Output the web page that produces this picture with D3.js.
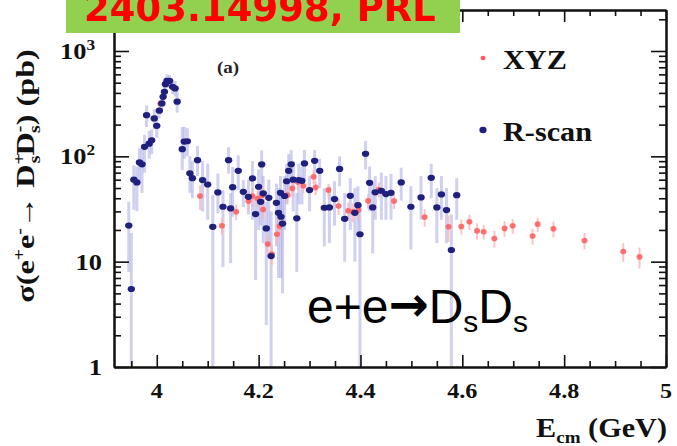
<!DOCTYPE html>
<html><head><meta charset="utf-8">
<script src="https://cdn.jsdelivr.net/npm/d3@7"></script>
<style>body{margin:0;background:#fff}svg{display:block}</style>
</head><body><svg id="c" width="677" height="446"></svg>
<script>
// R-scan data (blue)
const rscanE = [3.945,3.950,3.955,3.961,3.966,3.971,3.976,3.980,3.985,3.990,3.995,4.000,4.005,4.010,4.0125,4.015,4.017,4.020,4.025,4.031,4.036,4.040,4.050,4.054,4.060,4.065,4.070,4.080,4.090,4.100,4.110,4.120,4.130,4.141,4.145,4.149,4.160,4.170,4.180,4.188,4.194,4.200,4.204,4.206,4.209,4.215,4.220,4.2245,4.235,4.239,4.243,4.244,4.247,4.251,4.255,4.259,4.264,4.268,4.275,4.279,4.285,4.290,4.300,4.310,4.320,4.329,4.339,4.349,4.359,4.369,4.380,4.389,4.395,4.399,4.410,4.418,4.424,4.429,4.441,4.450,4.460,4.480,4.499,4.519,4.539,4.550,4.559,4.569,4.5785,4.589];
const rscanSigma = [22,5.5,60,56.5,87.5,84,123,246,132,142,229,195,271,318,367,410,484,520,520,457,441,330,117,138,139,69,62,92,59.5,54,21.4,45.4,33.2,92,32,51,72.8,46,41.3,61.7,28.3,51.4,37,83.8,44.5,20.7,40.4,11.3,36.2,29.1,45,26.7,23,42,58,72.8,84,60,25.8,59.5,58.6,85.7,47.8,90.6,72.8,32.5,32.7,39.3,76,25.5,42.2,29.1,34.4,18.2,105.6,56,32.7,45.5,47,43.8,45,56.5,33.2,40.7,62.5,32.7,43.5,30.9,12.9,42.8];
const rscanLo = [8,1,31,30,59,45,70,190,95,105,180,150,230,280,320,360,420,450,450,390,370,260,74,95,100,45,40,65,30,25,1,28.7,8.9,68.5,9.7,26.7,47.8,33,28,25,6.7,20,22,55,15,2.5,15,1,14,7,20,7,5,20,35,45,55,30,8,35,35,60,30,60,50,14,15,22,52,10,20,10,18,1,75,30,12,25,25,25,25,38,13,25,40,15,25,15,1,25];
const rscanHi = [37,18.7,82,80,119,120,160,304,175,180,280,245,320,360,420,470,560,600,590,530,520,420,190,190,185,100,90,125,90,85,43,68.5,47.8,122,44.7,79.5,102,59.5,60,90,41.3,75,55,114,65,37,60,30,55,50,65,45,40,65,85,105,115,90,45,85,80,115,65,115,95,50,52,58,100,45,62,50,52,35,140,80,55,65,70,65,68,78,52,65,85,50,65,50,28,62];
// XYZ data (red)
const xyzE = [4.007,4.085,4.128,4.156,4.180,4.188,4.198,4.207,4.209,4.218,4.226,4.236,4.241,4.257,4.266,4.277,4.288,4.308,4.312,4.337,4.357,4.376,4.385,4.396,4.415,4.436,4.466,4.526,4.573,4.598,4.614,4.629,4.642,4.663,4.683,4.699,4.738,4.748,4.779,4.840,4.916,4.948];
const xyzSigma = [317,42,21.9,29.7,37.6,42,39.8,42.8,31.3,14.7,11.8,18.2,21.8,42.8,49.6,57,52.5,64,50.7,47.8,33.7,30.4,29.7,30.9,37.8,48.5,37.6,26.5,21.4,21.6,23.9,19.6,19.2,16.6,20.7,21.9,17.5,22.7,20.5,15.9,12.5,11.1];
const xyzErr = [30,11,4,5,7,8,7,8,6,3,2.5,3.5,4,7,8,9,8,10,8,7,6,6,6,6,6,8,6,5,6,3.5,4,3.5,3,3,3.5,3.5,3,3.5,3.5,2.8,2.5,2.5];
// ticks
const xMajorTicks = [4,4.2,4.4,4.6,4.8,5];
const xTickLabels = ["4","4.2","4.4","4.6","4.8","5"];
const xMinorTicks = [3.95,4.05,4.1,4.15,4.25,4.3,4.35,4.45,4.5,4.55,4.65,4.7,4.75,4.85,4.9,4.95];
const yMajorTicks = [1,10,100,1000];
const yTickBase = ["1","10","10","10"];
const yTickExp = ["","","2","3"];
const seriesNames = ["XYZ","R-scan"];

const svg = d3.select("#c");
const L=114,R=666,T=10,B=367;
const x = d3.scaleLinear().domain([3.916,5.0]).range([L,R]);
const y = d3.scaleLog().domain([1,2450]).range([B,T]);
const yMinor = [];
[1,10,100,1000].forEach(d=>{for(let k=2;k<=9;k++){const v=d*k; if(v<2450) yMinor.push(v);}});

const serif = "'Liberation Serif','Times New Roman',serif";
const blue = "#1f1f7e", blueErr = "#a9a9e6", red = "#ff5a5a", redErr = "#ffb3b3";

// error bars
const gE = svg.append("g");
gE.selectAll("line.b").data(rscanE).join("line")
  .attr("x1",d=>x(d)).attr("x2",d=>x(d))
  .attr("y1",(d,i)=>y(Math.max(1,rscanLo[i]))).attr("y2",(d,i)=>y(rscanHi[i]))
  .attr("stroke",blueErr).attr("stroke-width",3).attr("stroke-opacity",0.55);
gE.selectAll("line.r").data(xyzE).join("line")
  .attr("x1",d=>x(d)).attr("x2",d=>x(d))
  .attr("y1",(d,i)=>y(xyzSigma[i]-xyzErr[i])).attr("y2",(d,i)=>y(xyzSigma[i]+xyzErr[i]))
  .attr("stroke",redErr).attr("stroke-width",2).attr("stroke-opacity",0.8);
// markers
svg.append("g").selectAll("ellipse").data(xyzE).join("ellipse")
  .attr("cx",d=>x(d)).attr("cy",(d,i)=>y(xyzSigma[i])).attr("rx",3).attr("ry",2.8)
  .attr("fill",red).attr("opacity",0.85);
svg.append("g").selectAll("ellipse").data(rscanE).join("ellipse")
  .attr("cx",d=>x(d)).attr("cy",(d,i)=>y(rscanSigma[i])).attr("rx",3.7).attr("ry",3.1)
  .attr("fill",blue);

// axes (ticks inside)
function styleAxis(g){g.selectAll("path").attr("stroke","#111").attr("stroke-width",2);
  g.selectAll("line").attr("stroke","#111").attr("stroke-width",1.6);}
svg.append("g").attr("transform",`translate(0,${B})`).call(d3.axisBottom(x).tickValues(xMajorTicks).tickSize(-12).tickSizeOuter(0).tickFormat("")).call(styleAxis);
svg.append("g").attr("transform",`translate(0,${B})`).call(d3.axisBottom(x).tickValues(xMinorTicks).tickSize(-6).tickSizeOuter(0).tickFormat("")).call(styleAxis);
svg.append("g").attr("transform",`translate(0,${T})`).call(d3.axisTop(x).tickValues(xMajorTicks).tickSize(-12).tickSizeOuter(0).tickFormat("")).call(styleAxis);
svg.append("g").attr("transform",`translate(0,${T})`).call(d3.axisTop(x).tickValues(xMinorTicks).tickSize(-6).tickSizeOuter(0).tickFormat("")).call(styleAxis);
svg.append("g").attr("transform",`translate(${L},0)`).call(d3.axisLeft(y).tickValues(yMajorTicks).tickSize(-15).tickSizeOuter(0).tickFormat("")).call(styleAxis);
svg.append("g").attr("transform",`translate(${L},0)`).call(d3.axisLeft(y).tickValues(yMinor).tickSize(-7).tickSizeOuter(0).tickFormat("")).call(styleAxis);
svg.append("g").attr("transform",`translate(${R},0)`).call(d3.axisRight(y).tickValues(yMajorTicks).tickSize(-15).tickSizeOuter(0).tickFormat("")).call(styleAxis);
svg.append("g").attr("transform",`translate(${R},0)`).call(d3.axisRight(y).tickValues(yMinor).tickSize(-7).tickSizeOuter(0).tickFormat("")).call(styleAxis);

// tick labels
svg.append("g").selectAll("text").data(xMajorTicks).join("text")
  .attr("transform",d=>`translate(${x(d)},${398}) scale(1.15,1)`).attr("text-anchor","middle")
  .attr("font-family",serif).attr("font-weight","bold").attr("font-size",21).attr("fill","#111")
  .text((d,i)=>xTickLabels[i]);
const yl = svg.append("g").selectAll("text").data(yMajorTicks).join("text")
  .attr("transform",(d,i)=>`translate(${yTickExp[i]?95:102},${y(d)+8}) scale(1.15,1)`).attr("text-anchor","end")
  .attr("font-family",serif).attr("font-weight","bold").attr("font-size",23).attr("fill","#111");
yl.append("tspan").text((d,i)=>yTickBase[i]);
yl.append("tspan").attr("dy",-9).attr("font-size",15).text((d,i)=>yTickExp[i]);

// axis titles
const yt = svg.append("text").attr("transform","translate(34,176) rotate(-90) scale(1.24,1)").attr("text-anchor","middle")
  .attr("font-family",serif).attr("font-weight","bold").attr("font-size",26).attr("fill","#111");
yt.append("tspan").text("σ(e");
yt.append("tspan").attr("dy",-9).attr("font-size",16).text("+");
yt.append("tspan").attr("dy",9).text("e");
yt.append("tspan").attr("dy",-9).attr("font-size",16).text("-");
yt.append("tspan").attr("dy",9).text("→  D");
yt.append("tspan").attr("dy",-9).attr("font-size",16).text("+");
yt.append("tspan").attr("dx",-8).attr("dy",15).attr("font-size",16).text("s");
yt.append("tspan").attr("dy",-6).text("D");
yt.append("tspan").attr("dy",-9).attr("font-size",16).text("-");
yt.append("tspan").attr("dx",-6).attr("dy",15).attr("font-size",16).text("s");
yt.append("tspan").attr("dy",-6).text(") (pb)");

const xt = svg.append("text").attr("transform","translate(667,437) scale(1.12,1)").attr("text-anchor","end")
  .attr("font-family",serif).attr("font-weight","bold").attr("font-size",27).attr("fill","#111");
xt.append("tspan").text("E");
xt.append("tspan").attr("dy",6).attr("font-size",17).text("cm");
xt.append("tspan").attr("dy",-6).text(" (GeV)");

// panel tag
svg.append("text").attr("transform","translate(217,73) scale(1.12,1)").attr("font-family",serif)
  .attr("font-weight","bold").attr("font-size",17).attr("fill","#222").text("(a)");

// legend
const legColors=[red,blue], legY=[58,130];
seriesNames.forEach((n,i)=>{
  svg.append("ellipse").attr("cx",483).attr("cy",legY[i]).attr("rx",i?3.6:2.5).attr("ry",i?3.2:2.3).attr("fill",legColors[i]);
  svg.append("text").attr("transform",`translate(503,${legY[i]+11}) scale(1.12,1)`).attr("font-family",serif)
    .attr("font-weight","bold").attr("font-size",27).attr("fill","#111").text(n);
});

// annotation
const an = svg.append("text").attr("x",307).attr("y",323).attr("font-family","'Liberation Sans',Arial,sans-serif")
  .attr("font-size",48).attr("fill","#000");
an.append("tspan").text("e+e");
an.append("tspan").attr("font-family","'DejaVu Sans',sans-serif").attr("font-weight","bold").attr("dy",-2).text("→");
an.append("tspan").attr("dy",2).text("D");
an.append("tspan").attr("dy",9).attr("font-size",30).text("s");
an.append("tspan").attr("dy",-9).text("D");
an.append("tspan").attr("dy",9).attr("font-size",30).text("s");

// title box
svg.append("rect").attr("x",66).attr("y",0).attr("width",394).attr("height",33).attr("fill","#92d050");
svg.append("text").attr("x",260).attr("y",21).attr("text-anchor","middle")
  .attr("font-family","'DejaVu Sans',Verdana,sans-serif").attr("font-weight","bold")
  .attr("font-size",37).attr("fill","#ff0000").text("2403.14998, PRL");
</script></body></html>
